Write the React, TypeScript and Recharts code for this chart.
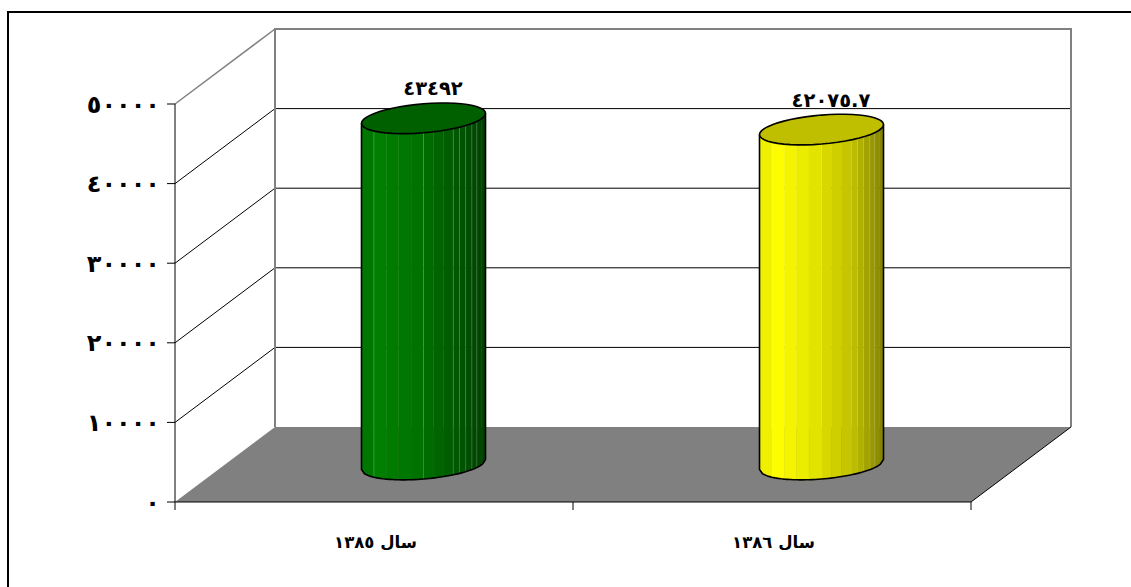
import React from 'react';
import { BarChart, Bar, XAxis, YAxis, ReferenceArea, LabelList } from 'recharts';

const categories = ['سال ١٣٨٥', 'سال ١٣٨٦'];
const values = [43492, 42075.7];
const yTicks = [0, 10000, 20000, 30000, 40000, 50000];
const rows = categories.map((year, i) => ({ year, value: values[i] }));

const FONT = '"DejaVu Sans", sans-serif';
const DEPTH_X = 100;
const DEPTH_Y = 75;
const RADIUS = 62;
const TILT = 5;
const MINOR = 14.5;

const bodyStops = [
  [[0, 112, 0], [0, 128, 0], [0, 116, 0], [0, 90, 0], [0, 64, 0]],
  [[228, 228, 0], [255, 255, 0], [230, 230, 0], [192, 192, 0], [130, 130, 0]],
];
const stopAt = [0, 0.12, 0.42, 0.75, 1];
const topColors = ['#006000', '#bfbf00'];
const stripEdges = [0, 0.1, 0.2, 0.3, 0.4, 0.5, 0.58, 0.66, 0.74, 0.79, 0.84, 0.89, 0.93, 0.97, 1];
const lightEdges = [0.1, 0.5, 0.74, 0.79, 0.84, 0.89, 0.93];

const toArabic = (v: number | string) =>
  String(v).replace(/[0-9]/g, (d) => '٠١٢٣٤٥٦٧٨٩'[Number(d)]);

const colorAt = (palette: number[][], t: number) => {
  let i = 0;
  while (i < stopAt.length - 2 && t > stopAt[i + 1]) i++;
  const f = (t - stopAt[i]) / (stopAt[i + 1] - stopAt[i]);
  const c = palette[i].map((a, k) => Math.round(a + (palette[i + 1][k] - a) * f));
  return `rgb(${c[0]},${c[1]},${c[2]})`;
};

const Cylinder = (props: any) => {
  const { x, y, width, height, index } = props;
  const cx = x + width / 2 + DEPTH_X / 2 - 0.5;
  const topY = y - DEPTH_Y / 2;
  const botY = y + height - DEPTH_Y / 2;
  const lower = (f: number) => {
    const u = 2 * f - 1;
    return botY + MINOR * Math.sqrt(Math.max(0, 1 - u * u)) - TILT * u;
  };
  const mid = (f: number) => topY - TILT * (2 * f - 1);
  const px = (f: number) => cx - RADIUS + 2 * RADIUS * f;

  const strips = stripEdges.slice(0, -1).map((f0, i) => {
    const f1 = stripEdges[i + 1];
    const steps = [0, 0.25, 0.5, 0.75, 1].map((s) => f0 + (f1 - f0) * s);
    const bottom = steps.slice().reverse().map((f) => `L${px(f)},${lower(f)}`).join('');
    const d = `M${px(f0)},${mid(f0)}L${px(f1)},${mid(f1)}${bottom}Z`;
    const col = colorAt(bodyStops[index], (f0 + f1) / 2);
    return <path key={i} d={d} fill={col} stroke={col} strokeWidth={0.4} />;
  });

  const samples: number[] = [];
  for (let i = 0; i <= 40; i++) samples.push(i / 40);
  const outlineBottom = samples.map((f) => `L${px(f)},${lower(f)}`).join('');
  const outline = `M${px(0)},${mid(0)}${outlineBottom}L${px(1)},${mid(1)}`;

  const ring: string[] = [];
  for (let i = 0; i < 48; i++) {
    const t = (i / 48) * 2 * Math.PI;
    const u = Math.cos(t);
    ring.push(`${cx + RADIUS * u},${topY + MINOR * Math.sin(t) - TILT * u}`);
  }

  return (
    <g>
      {strips}
      {lightEdges.map((f) => (
        <line key={f} x1={px(f)} x2={px(f)} y1={mid(f) + 8} y2={lower(f)} stroke="#ffffff" strokeOpacity={0.2} strokeWidth={1} />
      ))}
      <path d={outline} fill="none" stroke="#000" strokeWidth={1.6} />
      <polygon points={ring.join(' ')} fill={topColors[index]} stroke="#000" strokeWidth={1.6} />
    </g>
  );
};

const Walls = (props: any) => {
  const { x, y, width, height } = props;
  const bottom = y + height;
  const step = height / (yTicks.length - 1);
  const grid = yTicks.map((_, i) => bottom - i * step);
  const bx = x + DEPTH_X;
  const right = x + width;
  return (
    <g>
      <polygon
        points={`${x},${bottom} ${right},${bottom} ${right + DEPTH_X},${bottom - DEPTH_Y} ${bx},${bottom - DEPTH_Y}`}
        fill="#808080"
      />
      {grid.slice(1, -1).map((gy) => (
        <g key={gy}>
          <line x1={x} y1={gy} x2={bx} y2={gy - DEPTH_Y} stroke="#000" strokeWidth={1} />
          <line x1={bx} y1={gy - DEPTH_Y} x2={right + DEPTH_X} y2={gy - DEPTH_Y} stroke="#000" strokeWidth={1} />
        </g>
      ))}
      <line x1={x} y1={y} x2={bx} y2={y - DEPTH_Y} stroke="#808080" strokeWidth={1.5} />
      <polyline
        points={`${bx},${bottom - DEPTH_Y} ${bx},${y - DEPTH_Y} ${right + DEPTH_X},${y - DEPTH_Y} ${right + DEPTH_X},${bottom - DEPTH_Y}`}
        fill="none"
        stroke="#808080"
        strokeWidth={2}
      />
      <line x1={right} y1={bottom} x2={right + DEPTH_X} y2={bottom - DEPTH_Y} stroke="#000" strokeWidth={1} />
      {[0, 0.5, 1].map((f) => (
        <line key={f} x1={x + width * f} x2={x + width * f} y1={bottom} y2={bottom + 8} stroke="#000" strokeWidth={1} />
      ))}
    </g>
  );
};

const ValueLabel = (props: any) => {
  const { x, y, width, value } = props;
  return (
    <text
      x={x + width / 2 + DEPTH_X / 2 + 9}
      y={y - DEPTH_Y / 2 - 23}
      textAnchor="middle"
      fontFamily={FONT}
      fontWeight="bold"
      fontSize={19.5}
      fill="#000"
    >
      {toArabic(value)}
    </text>
  );
};

export default function App() {
  return (
    <div
      style={{
        position: 'absolute',
        left: 0,
        top: 0,
        width: 1131,
        height: 587,
        background: '#fff',
        overflow: 'hidden',
      }}
    >
      <div
        style={{
          position: 'absolute',
          left: 7,
          top: 11,
          width: 1124,
          height: 576,
          borderLeft: '2px solid #000',
          borderTop: '2px solid #000',
        }}
      />
      <div style={{ position: 'absolute', left: 0, top: 0 }}>
        <BarChart
          width={1131}
          height={587}
          data={rows}
          margin={{ left: 115, right: 160, top: 104, bottom: 55 }}
          barCategoryGap={0}
        >
          <ReferenceArea y1={0} y2={50000} shape={Walls} ifOverflow="visible" />
          <XAxis
            dataKey="year"
            height={30}
            stroke="#000"
            tickLine={false}
            tickMargin={28}
            tick={{ fontFamily: FONT, fontWeight: 'bold', fontSize: 16.5, fill: '#000', dx: 1.5 }}
          />
          <YAxis
            width={60}
            domain={[0, 50000]}
            ticks={yTicks}
            stroke="#000"
            tickSize={8}
            tickMargin={7}
            tickFormatter={toArabic}
            tick={{ fontFamily: FONT, fontWeight: 'bold', fontSize: 24, fill: '#000' }}
          />
          <Bar dataKey="value" barSize={124} shape={Cylinder} isAnimationActive={false}>
            <LabelList dataKey="value" content={ValueLabel} />
          </Bar>
        </BarChart>
      </div>
    </div>
  );
}
